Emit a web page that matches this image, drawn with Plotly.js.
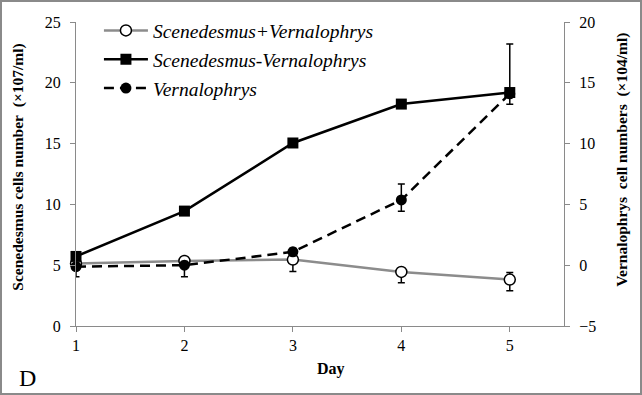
<!DOCTYPE html>
<html><head><meta charset="utf-8">
<script src="https://cdn.plot.ly/plotly-3.0.1.min.js"></script>
<style>
html,body{margin:0;padding:0;background:#fff;}
#wrap{position:relative;width:642px;height:395px;}
#frame{position:absolute;left:0;top:0;width:642px;height:395px;box-sizing:border-box;border:2px solid #8a8a8a;pointer-events:none;}
</style>
</head><body>
<div id="wrap"><div id="chart" style="width:642px;height:395px;"></div><div id="frame"></div></div>
<script>
const days = [1, 2, 3, 4, 5];
const dayTickLabels = ["1", "2", "3", "4", "5"];

const withPredator = [5.13, 5.35, 5.46, 4.45, 3.82];
const withPredatorErrPlus = [0.3, 0.3, 0.3, 0.3, 0.57];
const withPredatorErrMinus = [0.3, 0.3, 0.98, 0.9, 0.93];

const withoutPredator = [5.72, 9.45, 15.05, 18.25, 19.2];
const withoutPredatorErrPlus = [0, 0, 0, 0, 4.0];
const withoutPredatorErrMinus = [0, 0, 0, 0, 0];

const predator = [-0.12, 0, 1.1, 5.37, 14.1];
const predatorErrPlus = [0.3, 0.3, 0.3, 1.31, 0.4];
const predatorErrMinus = [0.84, 0.96, 0.3, 0.93, 0.87];

const FONT = "Liberation Serif";
const AX = "#8a8a8a";

const errStyle = {type: "data", symmetric: false, color: "#000", thickness: 1.5, width: 3.5};

const traces = [
  {
    x: days, y: withPredator, name: "Scenedesmus+Vernalophrys",
    mode: "lines+markers", cliponaxis: false,
    line: {color: "#8c8c8c", width: 2.5},
    marker: {symbol: "circle", size: 11, color: "#fff", line: {color: "#000", width: 1.5}},
    error_y: Object.assign({array: withPredatorErrPlus, arrayminus: withPredatorErrMinus}, errStyle),
    legendgroup: "a"
  },
  {
    x: days, y: withoutPredator, name: "Scenedesmus-Vernalophrys",
    mode: "lines+markers", cliponaxis: false,
    line: {color: "#000", width: 2.5},
    marker: {symbol: "square", size: 11, color: "#000"},
    error_y: Object.assign({array: withoutPredatorErrPlus, arrayminus: withoutPredatorErrMinus}, errStyle),
    legendgroup: "b"
  },
  {
    x: days, y: predator, name: "Vernalophrys", yaxis: "y2",
    mode: "lines+markers", cliponaxis: false,
    line: {color: "#000", width: 2.5, dash: "10px,6px"},
    marker: {symbol: "circle", size: 11, color: "#000"},
    error_y: Object.assign({array: predatorErrPlus, arrayminus: predatorErrMinus}, errStyle),
    legendgroup: "c"
  }
];

const axisBase = {
  showline: true, linecolor: AX, linewidth: 1,
  ticks: "outside", ticklen: 5, tickcolor: AX, tickwidth: 1,
  showgrid: false, zeroline: false,
  tickfont: {family: FONT, size: 16, color: "#000"}
};

const layout = {
  width: 642, height: 395,
  margin: {l: 76, r: 78, t: 21, b: 69},
  paper_bgcolor: "#fff", plot_bgcolor: "#fff",
  showlegend: true,
  legend: {
    x: 0.047, y: 1.032, xanchor: "left", yanchor: "top",
    bgcolor: "rgba(0,0,0,0)", borderwidth: 0,
    font: {family: FONT, size: 19.5, color: "#000", style: "italic"},
    tracegroupgap: 0.5, itemwidth: 44
  },
  xaxis: Object.assign({}, axisBase, {range: [1, 5.5], tickvals: days, ticktext: dayTickLabels, ticklabelstandoff: 0}),
  yaxis: Object.assign({}, axisBase, {range: [0, 25], dtick: 5, tick0: 0, ticklabelstandoff: 6}),
  yaxis2: Object.assign({}, axisBase, {range: [-5, 20], dtick: 5, tick0: -5, overlaying: "y", side: "right", ticklabelstandoff: 6}),
  annotations: [
    {text: "<b>Scenedesmus cells number\u00a0\u00a0(×107/ml)</b>", xref: "paper", yref: "paper",
     x: -0.1189, y: 0.524, xanchor: "center", yanchor: "middle", textangle: -90, showarrow: false,
     font: {family: FONT, size: 15.5, color: "#000"}},
    {text: "<b>Vernalophrys\u00a0\u00a0cell numbers\u00a0\u00a0(×104/ml)</b>", xref: "paper", yref: "paper",
     x: 1.1189, y: 0.547, xanchor: "center", yanchor: "middle", textangle: -90, showarrow: false,
     font: {family: FONT, size: 15.5, color: "#000"}},
    {text: "<b>Day</b>", xref: "paper", yref: "paper",
     x: 0.5225, y: -0.1408, xanchor: "center", yanchor: "middle", showarrow: false,
     font: {family: FONT, size: 16, color: "#000"}},
    {text: "D", xref: "paper", yref: "paper",
     x: -0.0984, y: -0.1726, xanchor: "center", yanchor: "middle", showarrow: false,
     font: {family: FONT, size: 24, color: "#000"}}
  ]
};

Plotly.newPlot("chart", traces, layout, {displayModeBar: false, staticPlot: true});
</script>
</body></html>
